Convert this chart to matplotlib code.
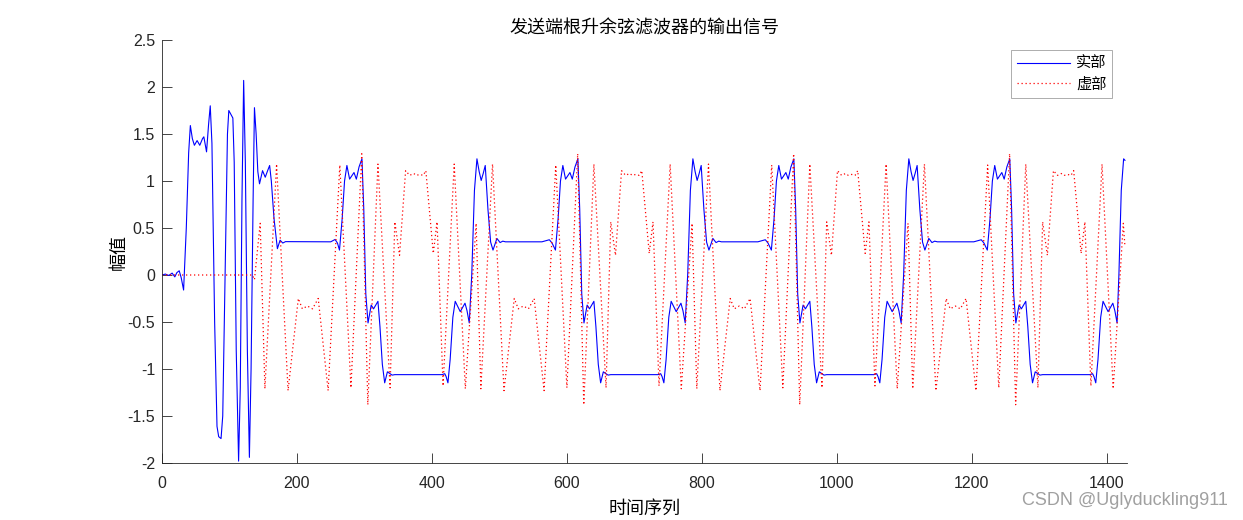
import numpy as np
import matplotlib
matplotlib.use('Agg')
import matplotlib.pyplot as plt

# values (sample index, amplitude)
real_x = [0, 5, 10, 15, 19, 22, 25.5, 28.5, 32, 36, 39.5, 42, 45, 48, 52, 56, 60, 62, 66, 69,
          71.5, 74, 78, 81.5, 84, 87.5, 90, 94, 97, 99, 102, 105, 107, 110, 113.5, 116, 118.5, 121,
          123.5, 126.5, 129.5, 132, 135, 137, 139.5, 142, 144.5, 149, 153, 156, 159.5, 162, 166,
          171, 175, 179, 183, 250, 256.5, 260,
          263, 267, 270.5, 274, 278, 284.5, 288, 292, 296.3, 299, 302, 305.3, 310, 313.5, 320,
          323, 326.5, 330, 334, 337, 341, 345, 415, 419, 421, 423.7, 427, 431, 434.5, 442, 449,
          452, 455.3, 459, 463, 466.7, 470, 473, 476, 479, 483, 487, 490.5, 496.3, 501, 505, 509,
          563, 569, 574, 578,
          583, 587, 590.5, 594, 598, 604.5, 608, 612, 616.3, 619, 622, 625.3, 630, 633.5, 640,
          643, 646.5, 650, 654, 657, 661, 665, 735, 739, 741, 743.7, 747, 751, 754.5, 762, 769,
          772, 775.3, 779, 783, 786.7, 790, 793, 796, 799, 803, 807, 810.5, 816.3, 821, 825, 829,
          883, 889, 894, 898,
          903, 907, 910.5, 914, 918, 924.5, 928, 932, 936.3, 939, 942, 945.3, 950, 953.5, 960,
          963, 966.5, 970, 974, 977, 981, 985, 1055, 1059, 1061, 1063.7, 1067, 1071, 1074.5, 1082,
          1089, 1092, 1095.3, 1099, 1103, 1106.7, 1110, 1113, 1116, 1119, 1123, 1127, 1130.5,
          1136.3, 1141, 1145, 1149, 1203, 1209, 1214, 1218,
          1223, 1227, 1230.5, 1234, 1238, 1244.5, 1248, 1252, 1256.3, 1259, 1262, 1265.3, 1270,
          1273.5, 1280, 1283, 1286.5, 1290, 1294, 1297, 1301, 1305, 1375, 1379, 1381, 1383.7,
          1387, 1391, 1394.5, 1402, 1409, 1412, 1415.3, 1418, 1421.5, 1425, 1427]
real_y = [0, 0.01, -0.005, 0.02, -0.02, 0.025, 0.045, -0.03, -0.16, 0.5, 1.3, 1.59, 1.45, 1.38,
          1.43, 1.38, 1.45, 1.47, 1.31, 1.6,
          1.80, 1.4, -0.5, -1.61, -1.72, -1.74, -1.5, 0.2, 1.5, 1.75, 1.71, 1.67, 1.2, -0.8, -1.98,
          -1.2, 0.8, 2.07,
          1.2, -0.8, -1.94, -1.0, 0.8, 1.78, 1.5, 1.1, 0.97, 1.11, 1.04, 1.10, 1.165, 1.0, 0.6,
          0.28, 0.37, 0.34, 0.355, 0.353, 0.378, 0.34,
          0.265, 0.6, 1.0, 1.165, 1.02, 1.09, 1.02, 1.15, 1.236, 0.7, -0.2, -0.51, -0.32, -0.36, -0.28,
          -0.55, -0.95, -1.147, -1.03, -1.045, -1.065, -1.06, -1.06, -1.05, -1.08, -1.147, -0.9, -0.45, -0.28, -0.39, -0.30,
          -0.38, -0.51, 0.0, 0.9, 1.236, 1.1, 1.006, 1.08, 1.165, 0.7, 0.35, 0.265, 0.389, 0.345, 0.36, 0.353,
          0.353, 0.365, 0.375, 0.34,
          0.265, 0.6, 1.0, 1.165, 1.02, 1.09, 1.02, 1.15, 1.236, 0.7, -0.2, -0.51, -0.32, -0.36, -0.28,
          -0.55, -0.95, -1.147, -1.03, -1.045, -1.065, -1.06, -1.06, -1.05, -1.08, -1.147, -0.9, -0.45, -0.28, -0.39, -0.30,
          -0.38, -0.51, 0.0, 0.9, 1.236, 1.1, 1.006, 1.08, 1.165, 0.7, 0.35, 0.265, 0.389, 0.345, 0.36, 0.353,
          0.353, 0.365, 0.375, 0.34,
          0.265, 0.6, 1.0, 1.165, 1.02, 1.09, 1.02, 1.15, 1.236, 0.7, -0.2, -0.51, -0.32, -0.36, -0.28,
          -0.55, -0.95, -1.147, -1.03, -1.045, -1.065, -1.06, -1.06, -1.05, -1.08, -1.147, -0.9, -0.45, -0.28, -0.39,
          -0.30, -0.38, -0.51, 0.0, 0.9, 1.236, 1.1, 1.006, 1.08, 1.165, 0.7, 0.35, 0.265,
          0.389, 0.345, 0.36, 0.353, 0.353, 0.365, 0.375, 0.34,
          0.265, 0.6, 1.0, 1.165, 1.02, 1.09, 1.02, 1.15, 1.236, 0.7, -0.2, -0.51, -0.32,
          -0.36, -0.28, -0.55, -0.95, -1.147, -1.03, -1.045, -1.065, -1.06, -1.06, -1.05, -1.08, -1.147,
          -0.9, -0.45, -0.28, -0.39, -0.30, -0.38, -0.51, 0.0, 0.9, 1.236, 1.22]

imag_x = [0, 134, 137, 145.5, 152.5, 169.8, 186.8, 202, 208, 215.5, 223, 231.5, 246.2,
          263.5, 280, 296, 305, 320, 338, 345, 352, 361, 367, 373, 377, 382, 387, 391, 402, 407.6,
          416.5, 433, 449.5, 465.5, 472.5, 489.8, 506.8, 522, 528, 535.5, 543, 551.5, 566.2,
          583.5, 600, 616, 625, 640, 658, 665, 672, 681, 687, 693, 697, 702, 707, 711, 722, 727.6,
          736.5, 753, 769.5, 785.5, 792.5, 809.8, 826.8, 842, 848, 855.5, 863, 871.5, 886.2,
          903.5, 920, 936, 945, 960, 978, 985, 992, 1001, 1007, 1013, 1017, 1022, 1027, 1031, 1042,
          1047.6, 1056.5, 1073, 1089.5, 1105.5, 1112.5, 1129.8, 1146.8, 1162, 1168, 1175.5, 1183,
          1191.5, 1206.2,
          1223.5, 1240, 1256, 1265, 1280, 1298, 1305, 1312, 1321, 1327, 1333, 1337, 1342, 1347,
          1351, 1362, 1367.6, 1376.5, 1393, 1409.5, 1424.5, 1427]
imag_y = [0, 0, -0.05, 0.55, -1.21, 1.18, -1.23, -0.25, -0.36, -0.33, -0.36, -0.25, -1.23,
          1.17, -1.2, 1.29, -1.38, 1.18, -1.2, 0.565, 0.21, 1.11, 1.06, 1.08, 1.06, 1.07, 1.06, 1.11, 0.23, 0.565,
          -1.18, 1.18, -1.21, 0.55, -1.21, 1.18, -1.23, -0.25, -0.36, -0.33, -0.36, -0.25, -1.23,
          1.17, -1.2, 1.29, -1.38, 1.18, -1.2, 0.565, 0.21, 1.11, 1.06, 1.08, 1.06, 1.07, 1.06, 1.11, 0.23, 0.565,
          -1.18, 1.18, -1.21, 0.55, -1.21, 1.18, -1.23, -0.25, -0.36, -0.33, -0.36, -0.25, -1.23,
          1.17, -1.2, 1.29, -1.38, 1.18, -1.2, 0.565, 0.21, 1.11, 1.06, 1.08, 1.06, 1.07, 1.06, 1.11, 0.23,
          0.565, -1.18, 1.18, -1.21, 0.55, -1.21, 1.18, -1.23, -0.25, -0.36, -0.33, -0.36,
          -0.25, -1.23,
          1.17, -1.2, 1.29, -1.38, 1.18, -1.2, 0.565, 0.21, 1.11, 1.06, 1.08, 1.06, 1.07, 1.06,
          1.11, 0.23, 0.565, -1.18, 1.18, -1.21, 0.55, 0.3]

x_ticks = [0, 200, 400, 600, 800, 1000, 1200, 1400]
y_ticks = [-2, -1.5, -1, -0.5, 0, 0.5, 1, 1.5, 2, 2.5]
y_tick_labels = ['-2', '-1.5', '-1', '-0.5', '0', '0.5', '1', '1.5', '2', '2.5']

cjk = ['Noto Sans CJK SC', 'DejaVu Sans']
plt.rcParams['font.family'] = ['Liberation Sans', 'DejaVu Sans']

fig = plt.figure(figsize=(12.43, 5.2), dpi=100)
ax = fig.add_axes([162 / 1243, 1 - 463 / 520, (1127 - 162) / 1243, (463 - 40) / 520])

ax.plot(real_x, real_y, color='#0000ff', lw=0.8, label='实部')
ax.plot(imag_x, imag_y, color='#ff0000', lw=0.9, ls=(0, (1, 2.2)), label='虚部')

ax.set_xlim(0, 1430)
ax.set_ylim(-2, 2.5)
ax.set_xticks(x_ticks)
ax.set_xticklabels([str(t) for t in x_ticks])
ax.set_yticks(y_ticks)
ax.set_yticklabels(y_tick_labels)
ax.tick_params(direction='in', length=7, width=0.6, colors='#262626', labelsize=11.5)
ax.tick_params(axis='x', pad=9)
ax.tick_params(axis='y', pad=5)
for s in ['top', 'right']:
    ax.spines[s].set_visible(False)
for s in ['left', 'bottom']:
    ax.spines[s].set_color('#262626')
    ax.spines[s].set_linewidth(0.6)

ax.set_title('发送端根升余弦滤波器的输出信号', family=cjk, fontsize=13, pad=5)
ax.set_xlabel('时间序列', family=cjk, fontsize=13, labelpad=7)
ax.set_ylabel('幅值', family=cjk, fontsize=13, labelpad=0)

leg = ax.legend(loc='upper right', bbox_to_anchor=(1112 / 1243, 1 - 50 / 520),
                bbox_transform=fig.transFigure, borderaxespad=0, prop={'family': cjk, 'size': 11},
                fancybox=False, framealpha=1, edgecolor='#a0a0a0', handlelength=3.5,
                handletextpad=0.4, borderpad=0.35, labelspacing=0.2)
leg.get_frame().set_linewidth(0.6)

fig.text(0.988, 0.022, 'CSDN @Uglyduckling911', ha='right', va='bottom', fontsize=13,
         color='#a0a0a0', family=['Liberation Sans', 'DejaVu Sans'])

fig.savefig('out.png', dpi=100)
